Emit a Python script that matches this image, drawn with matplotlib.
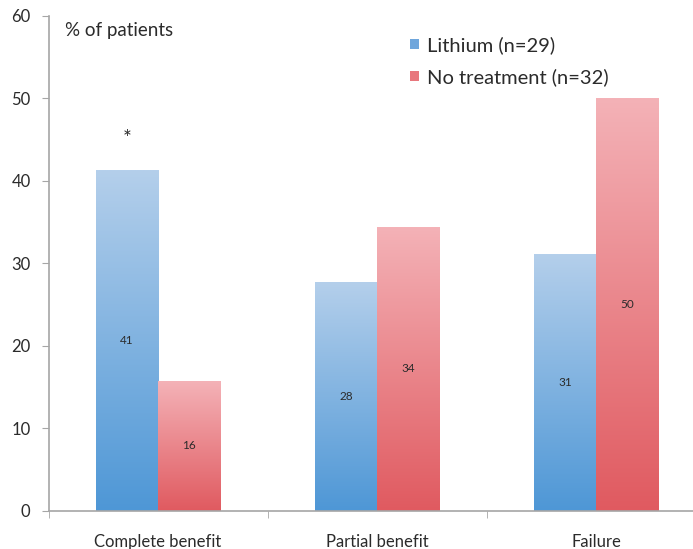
import numpy as np
import matplotlib
matplotlib.use("Agg")
import matplotlib.pyplot as plt
from matplotlib.colors import LinearSegmentedColormap
from matplotlib.patches import Patch

categories = ["Complete benefit", "Partial benefit", "Failure"]
lithium = [41.3, 27.7, 31.1]
no_treatment = [15.7, 34.4, 50.0]
lithium_labels = ["41", "28", "31"]
no_treatment_labels = ["16", "34", "50"]
series_names = ["Lithium (n=29)", "No treatment (n=32)"]
yticks = [0, 10, 20, 30, 40, 50, 60]

plt.rcParams['font.family'] = ['Lato', 'DejaVu Sans']
text_color = "#2b2b2b"
spine_color = "#a6a6a6"

fig = plt.figure(figsize=(6.93, 5.49), dpi=100)
ax = fig.add_axes([0.0701, 0.0701, 0.948, 0.9013])

x = np.arange(len(categories))
w = 0.285
b1 = ax.bar(x - w / 2, lithium, width=w, color="#80b2e0", linewidth=0)
b2 = ax.bar(x + w / 2, no_treatment, width=w, color="#ea8a90", linewidth=0)

cmap_blue = LinearSegmentedColormap.from_list("b", ["#4e97d6", "#b4cfeb"])
cmap_red = LinearSegmentedColormap.from_list("r", ["#e05a60", "#f4b2b7"])
grad = np.linspace(0, 1, 256).reshape(-1, 1)
for bars, cmap in ((b1, cmap_blue), (b2, cmap_red)):
    for p in bars:
        x0, y0 = p.get_x(), p.get_y()
        x1, y1 = x0 + p.get_width(), y0 + p.get_height()
        im = ax.imshow(grad, extent=[x0, x1, y0, y1], origin="lower",
                       cmap=cmap, aspect="auto", zorder=p.get_zorder() + 0.1)
        im.set_clip_path(p)

for xi, v, lab in zip(x - w / 2, lithium, lithium_labels):
    ax.text(xi, v / 2, lab, ha="center", va="center", fontsize=8.5, color=text_color, zorder=5)
for xi, v, lab in zip(x + w / 2, no_treatment, no_treatment_labels):
    ax.text(xi, v / 2, lab, ha="center", va="center", fontsize=8.5, color=text_color, zorder=5)

ax.text(x[0] - w / 2, 45.0, "*", ha="center", va="center", fontsize=15, color=text_color)
ax.text(-0.425, 58.2, "% of patients", ha="left", va="center", fontsize=13.5, color=text_color)

ax.set_xlim(-0.5, 2.5)
ax.set_ylim(0, 60)
ax.set_yticks(yticks)
ax.set_yticklabels([str(t) for t in yticks], fontsize=12, color=text_color)
ax.set_xticks(x)
ax.set_xticklabels(categories, fontsize=12, color=text_color)
ax.tick_params(axis="x", which="major", length=0, pad=17)
ax.set_xticks([-0.5, 0.5, 1.5, 2.5], minor=True)
ax.tick_params(axis="x", which="minor", length=5, color=spine_color, direction="out")
ax.tick_params(axis="y", length=5, color=spine_color, direction="out", pad=8)

for s in ("top", "right"):
    ax.spines[s].set_visible(False)
for s in ("left", "bottom"):
    ax.spines[s].set_color(spine_color)
    ax.spines[s].set_linewidth(1.2)

handles = [Patch(facecolor="#6fa6dc"), Patch(facecolor="#e8777d")]
leg = ax.legend(handles, series_names, loc="upper left", bbox_to_anchor=(0.522, 0.995),
                frameon=False, fontsize=14.5, handlelength=0.45, handleheight=0.45,
                handletextpad=0.4, labelspacing=0.7, labelcolor=text_color)

fig.savefig("out.png", dpi=100)
